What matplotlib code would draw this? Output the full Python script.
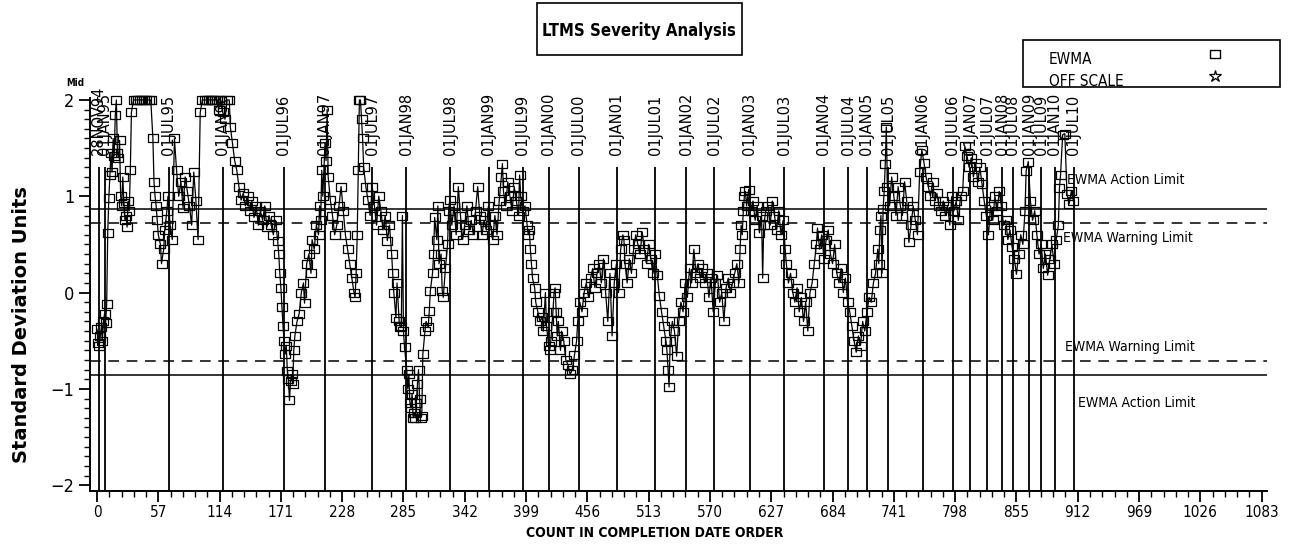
import matplotlib
matplotlib.use("Agg")
import matplotlib.pyplot as plt
from matplotlib.path import Path
from matplotlib.lines import Line2D
from matplotlib.patches import Rectangle
import numpy as np

# ---------------- data ----------------
x_count = [0, 1, 2, 3, 4, 5, 6, 7, 8, 9, 10, 11, 12, 13, 14, 15, 16, 17, 18, 19, 20, 21, 22, 23, 24, 25, 26, 27, 28, 29, 30, 31, 32,
           34, 36, 38, 40, 42, 44, 46, 48, 50,
           52, 53, 54, 55, 56, 57, 59, 60, 62, 63, 65, 66, 68, 70, 72, 74, 76, 78, 80, 82, 84, 86, 88, 90, 92, 94, 96,
           98, 100, 102, 104, 106, 108, 110, 112,
           113, 115, 117, 119, 121, 123, 124, 126, 128, 130, 132, 134, 136, 138, 140, 142, 144, 146, 148, 150, 152, 154, 156, 158,
           160, 162, 164, 166, 168, 169, 170, 171, 172, 173, 174, 175, 176, 177, 178, 179, 180, 181, 182, 183, 184, 186, 188,
           190, 192, 193, 195, 197, 199, 200, 202, 204, 206, 207, 208, 209, 210, 212, 213, 214, 215, 217, 219, 221, 223, 225,
           227, 229, 231, 233, 235, 237, 239, 240, 241, 242, 243, 244, 245, 246, 247, 248, 250, 252, 254, 256, 258, 260, 262,
           264, 266, 268, 270, 272, 274, 275, 276, 278, 279, 281, 282, 283, 284, 285, 286, 288, 289, 290, 291, 292, 293, 294,
           295, 296, 297, 298, 299, 300, 301, 302, 303, 305, 306, 308, 309, 310, 312, 313, 314, 316, 317, 318, 320, 321, 322,
           324, 326, 327, 328, 330, 332, 334, 336, 338, 340, 342, 344, 346, 348, 350, 352, 354, 356, 358, 360, 362, 364, 366,
           368, 370, 372, 374, 376, 377, 378, 380, 382, 384, 386, 388, 390, 392, 393, 394, 396, 398, 400, 401, 402, 403, 404,
           405, 407, 408, 410, 412, 414, 415, 417, 418, 420, 421, 422, 424, 425, 426, 427, 428, 429, 431, 432, 434, 436, 438,
           440, 442, 444, 446, 447, 449, 451, 453, 455, 457, 459, 461, 463, 465, 467, 469, 471, 473, 475, 477, 479, 481, 483,
           485, 487, 489, 490, 491, 493, 495, 497, 499, 501, 503, 505, 507, 509, 511, 513, 515, 517, 519, 521, 523, 525, 527,
           529, 530, 531, 532, 533, 535, 537, 539, 541, 543, 545, 547, 549, 551, 553, 555, 557, 559, 561, 563, 565, 567, 569,
           571, 573, 575, 577, 579, 581, 583, 585, 587, 589, 591, 593, 595, 597, 598, 599, 600, 601, 602, 603, 604, 606, 608,
           610, 612, 614, 616, 618, 619, 620, 622, 624, 626, 628, 630, 632, 634, 636, 638, 640, 641, 643, 645, 647, 649, 651,
           653, 655, 657, 659, 661, 663, 665, 667, 669, 670, 672, 674, 676, 678, 680, 682, 684, 686, 688, 690, 692, 694, 696,
           698, 700, 702, 704, 706, 708, 710, 712, 714, 716, 718, 720, 722, 724, 726, 727, 728, 729, 730, 731, 732, 733, 734,
           735, 737, 739, 741, 743, 745, 747, 749, 751, 753, 755, 757, 759, 761, 763, 765, 767, 769, 771, 773, 775, 777, 779,
           781, 783, 785, 787, 789, 791, 793, 795, 797, 799, 801, 803, 805, 807, 809, 811, 813, 815, 817, 819, 821, 823, 825,
           827, 829, 831, 833, 835, 837, 839, 841, 843, 845, 847, 849, 851, 853, 855, 857, 859, 861, 863, 864, 866, 868, 870,
           872, 874, 876, 878, 880, 882, 884, 886, 888, 890, 892, 894, 895, 896, 898, 900, 902, 904, 906, 908]

ewma = [-0.38, -0.52, -0.55, -0.45, -0.36, -0.50, -0.30, -0.22, -0.32, -0.12, 0.62, 0.98, 1.22, 1.45, 1.25, 1.60, 1.42, 1.84, 2.00, 1.45, 1.40, 1.58, 1.00, 0.90, 1.20, 0.93, 0.75, 0.80, 0.68, 0.95, 0.85, 1.27, 1.87,
        2.00, 2.00, 2.00, 2.00, 2.00, 2.00, 2.00, 2.00, 2.00,
        1.60, 1.15, 1.00, 0.90, 0.75, 0.60, 0.50, 0.30, 0.45, 0.65, 0.85, 1.00, 0.70, 0.55, 1.60, 1.27, 1.00, 1.15, 0.88, 1.20, 1.05, 0.90, 0.70, 1.25, 0.95, 0.55, 1.87,
        2.00, 2.00, 2.00, 2.00, 2.00, 2.00, 2.00, 2.00,
        1.90, 2.00, 1.87, 1.80, 2.00, 2.00, 1.72, 1.55, 1.37, 1.27, 1.10, 0.96, 1.03, 0.90, 1.00, 0.85, 0.95, 0.78, 0.90, 0.70, 0.85, 0.75, 0.90, 0.68,
        0.80, 0.70, 0.60, 0.75, 0.54, 0.40, 0.20, 0.05, -0.15, -0.35, -0.50, -0.64, -0.55, -0.81, -0.90, -1.12, -0.92, -0.85, -0.95, -0.60, -0.45, -0.30, -0.22,
        0.00, 0.10, -0.11, 0.30, 0.40, 0.20, 0.55, 0.45, 0.70, 0.60, 0.90, 0.75, 1.27, 1.00, 1.55, 1.37, 1.90, 1.20, 0.96, 0.80, 0.60, 0.70, 0.90,
        1.10, 0.85, 0.60, 0.45, 0.30, 0.15, 0.00, -0.05, 0.20, 0.60, 1.27, 2.00, 2.00, 1.80, 1.60, 1.30, 1.10, 0.96, 0.80, 1.10, 0.90, 0.70, 1.00,
        0.85, 0.65, 0.80, 0.54, 0.70, 0.40, 0.20, 0.00, -0.26, 0.10, -0.30, -0.36, -0.35, 0.80, -0.40, -0.57, -0.80, -1.00, -0.85, -1.15, -1.20, -1.05, -1.30,
        -1.25, -1.30, -1.15, -0.95, -0.80, -1.10, -1.30, -1.28, -0.64, -0.40, -0.30, -0.36, -0.19, 0.02, 0.20, 0.40, 0.78, 0.55, 0.90, 0.30, 0.40, 0.02, -0.05,
        0.25, 0.50, 0.85, 0.96, 0.70, 0.90, 0.60, 1.10, 0.80, 0.55, 0.70, 0.90, 0.65, 0.75, 0.60, 0.85, 1.10, 0.80, 0.60, 0.75, 0.65, 0.90, 0.70,
        0.55, 0.80, 0.60, 0.95, 1.20, 1.34, 1.05, 0.90, 1.15, 1.00, 0.85, 1.10, 0.95, 0.80, 1.22, 1.00, 0.85, 0.90, 0.70, 0.60, 0.65, 0.45, 0.30,
        0.15, 0.05, -0.10, -0.20, -0.30, -0.25, -0.40, 0.00, -0.35, -0.55, -0.60, -0.50, -0.20, 0.00, 0.05, -0.20, -0.45, -0.30, -0.60, -0.40, -0.50, -0.70, -0.75,
        -0.85, -0.80, -0.65, -0.50, -0.30, -0.10, -0.20, 0.00, 0.10, -0.05, 0.15, 0.25, 0.05, 0.20, 0.30, 0.10, 0.35, 0.00, -0.30, 0.20, -0.45, 0.10, 0.30,
        0.00, 0.45, 0.60, 0.55, 0.30, 0.10, 0.35, 0.20, 0.45, 0.60, 0.50, 0.40, 0.63, 0.45, 0.30, 0.50, 0.35, 0.20, 0.40, 0.18, -0.04, -0.20, -0.35,
        -0.50, -0.60, -0.80, -0.98, -0.50, -0.30, -0.40, -0.66, -0.30, -0.10, -0.20, 0.10, -0.05, 0.25, 0.10, 0.45, 0.20, 0.30, 0.15, 0.25, 0.10, 0.20, -0.05,
        0.15, -0.20, 0.10, 0.18, -0.10, 0.00, -0.30, 0.05, 0.15, 0.00, 0.10, 0.20, 0.30, 0.10, 0.45, 0.70, 0.60, 0.85, 1.00, 1.05, 0.90, 1.07, 0.85,
        0.95, 0.75, 0.90, 0.62, 0.80, 0.15, 0.70, 0.85, 0.90, 0.70, 0.95, 0.80, 0.65, 0.85, 0.60, 0.75, 0.45, 0.30, 0.10, 0.20, 0.00, -0.10, 0.05,
        -0.20, -0.05, -0.30, -0.10, -0.40, 0.00, 0.10, 0.30, 0.50, 0.67, 0.45, 0.60, 0.35, 0.55, 0.65, 0.40, 0.30, 0.50, 0.20, 0.10, 0.25, 0.00, 0.15,
        -0.10, -0.20, -0.35, -0.50, -0.62, -0.45, -0.55, -0.30, -0.40, -0.20, -0.05, -0.10, 0.10, 0.20, 0.45, 0.30, 0.65, 0.80, 0.20, 0.87, 1.05, 1.33, 1.72,
        1.10, 0.90, 1.20, 1.00, 0.80, 1.10, 0.90, 0.80, 1.15, 0.95, 0.52, 0.70, 0.90, 0.75, 0.60, 1.25, 1.48, 1.35, 1.20, 1.10, 1.00, 1.15, 0.95,
        1.03, 0.90, 0.85, 0.95, 0.80, 0.90, 0.70, 1.00, 0.85, 0.95, 0.75, 1.00, 1.05, 1.52, 1.42, 1.30, 1.40, 1.20, 1.35, 1.15, 1.30, 1.13, 0.95,
        0.80, 0.60, 0.90, 0.75, 1.00, 0.85, 1.05, 0.90, 0.70, 0.75, 0.55, 0.65, 0.47, 0.35, 0.19, 0.40, 0.60, 0.50, 0.85, 1.26, 1.36, 0.95, 0.75,
        0.85, 0.60, 0.40, 0.50, 0.25, 0.40, 0.18, 0.35, 0.50, 0.30, 0.55, 0.70, 1.09, 1.22, 1.64, 1.65, 1.02, 0.92, 1.05, 0.95]

date_labels = ["28NOV94", "01JAN95", "01JUL95", "01JAN96", "01JUL96", "01JAN97", "01JUL97", "01JAN98",
               "01JUL98", "01JAN99", "01JUL99", "01JAN00", "01JUL00", "01JAN01", "01JUL01", "01JAN02",
               "01JUL02", "01JAN03", "01JUL03", "01JAN04", "01JUL04", "01JAN05", "01JUL05", "01JAN06",
               "01JUL06", "01JAN07", "01JUL07", "01JAN08", "01JUL08", "01JAN09", "01JUL09", "01JAN10", "01JUL10"]
date_x = [1.7, 7.1, 66.7, 117, 173.6, 211.7, 255.8, 287.6, 328.7, 364.4, 395.8, 420, 448, 483.4, 518.9, 548,
          574, 607, 639, 676, 698.7, 716, 736, 768, 796, 812, 828, 842, 851.5, 867, 878, 890.6, 908.5]

action_limit = [0.87, -0.86]
warning_limit = [0.72, -0.71]
x_ticks = [0, 57, 114, 171, 228, 285, 342, 399, 456, 513, 570, 627, 684, 741, 798, 855, 912, 969, 1026, 1083]
y_ticks = [-2, -1, 0, 1, 2]

# ---------------- figure ----------------
COND = dict(family='DejaVu Sans', stretch='condensed')
W, H = 1289, 555
fig = plt.figure(figsize=(W / 100, H / 100), dpi=100)
ax = fig.add_axes([90 / W, 1 - 491 / H, (1267 - 90) / W, (491 - 98) / H])
ax.set_xlim(-6.5, 1088)
ax.set_ylim(-2.06, 2.02)
ybot = -2.06

for s in ['top', 'right']:
    ax.spines[s].set_visible(False)
for s in ['left', 'bottom']:
    ax.spines[s].set_linewidth(1.4)

# reference (date) lines
ax.vlines(date_x, ybot, 1.30, color='black', lw=1.3, zorder=1)
for xv, lab in zip(date_x, date_labels):
    ax.text(xv, 1.43, lab, rotation=90, ha='center', va='bottom', fontsize=10.5,
            family='DejaVu Sans', clip_on=False, zorder=3)

# control limits
for v in action_limit:
    ax.axhline(v, color='black', lw=1.1, zorder=1)
for v in warning_limit:
    ax.axhline(v, color='black', lw=1.1, ls=(0, (7, 5)), zorder=1)

ax.text(902, 1.17, "EWMA Action Limit", fontsize=10, va='center', ha='left', **COND)
ax.text(898, 0.57, "EWMA Warning Limit", fontsize=10, va='center', ha='left', **COND)
ax.text(900, -0.57, "EWMA Warning Limit", fontsize=10, va='center', ha='left', **COND)
ax.text(912, -1.15, "EWMA Action Limit", fontsize=10, va='center', ha='left', **COND)

# data
rect = Path([(-1, -0.75), (1, -0.75), (1, 0.75), (-1, 0.75), (-1, -0.75)],
            [Path.MOVETO, Path.LINETO, Path.LINETO, Path.LINETO, Path.CLOSEPOLY])
ax.plot(x_count, ewma, color='black', lw=0.9, marker=rect, markersize=7,
        mfc='none', mec='black', mew=0.9, zorder=4, clip_on=False)

# ticks
ax.set_xticks(x_ticks)
ax.set_xticks(np.arange(0, 1084, 11.4), minor=True)
ax.set_yticks(y_ticks)
ax.set_yticks(np.arange(-2, 2.001, 0.1), minor=True)
ax.tick_params(axis='both', which='major', direction='out', length=8, width=1.3, labelsize=11)
ax.tick_params(axis='x', which='major', pad=2)
ax.tick_params(axis='both', which='minor', direction='out', length=4, width=1.0)
ax.set_yticklabels(['\u22122', '\u22121', '0', '1', '2'])
for lab in ax.get_xticklabels():
    lab.set_family('DejaVu Sans')
    lab.set_stretch('condensed')
for lab in ax.get_yticklabels():
    lab.set_family('DejaVu Sans')
    lab.set_stretch('condensed')
    lab.set_fontsize(13)

# axis titles
fig.text(22 / W, 1 - 325 / H, "Standard Deviation Units", rotation=90, ha='center', va='center',
         fontsize=14, fontweight='bold', family='DejaVu Sans')
fig.text(655 / W, 1 - 533 / H, "COUNT IN COMPLETION DATE ORDER", ha='center', va='center',
         fontsize=10, fontweight='bold', **COND)
fig.text(75 / W, 1 - 83 / H, "Mid", ha='center', va='center', fontsize=7, fontweight='bold', **COND)

# title box
fig.add_artist(Rectangle((537 / W, 1 - 55 / H), (742 - 537) / W, (55 - 3) / H,
                         transform=fig.transFigure, fill=False, ec='black', lw=1.2))
fig.text(639 / W, 1 - 31 / H, "LTMS Severity Analysis", ha='center', va='center',
         fontsize=12, fontweight='bold', **COND)

# legend box
fig.add_artist(Rectangle((1023 / W, 1 - 87 / H), (1280 - 1023) / W, (87 - 40) / H,
                         transform=fig.transFigure, fill=False, ec='black', lw=1.2))
fig.text(1049 / W, 1 - 60 / H, "EWMA", ha='left', va='center', fontsize=11, **COND)
fig.text(1049 / W, 1 - 81 / H, "OFF SCALE", ha='left', va='center', fontsize=11, **COND)
fig.add_artist(Line2D([1215 / W], [1 - 54 / H], transform=fig.transFigure, marker=rect,
                      markersize=7, mfc='none', mec='black', mew=1.0, ls='none'))
fig.add_artist(Line2D([1215 / W], [1 - 76 / H], transform=fig.transFigure, marker='*',
                      markersize=9, mfc='none', mec='black', mew=0.9, ls='none'))

fig.savefig("out.png", dpi=100, facecolor='white')
